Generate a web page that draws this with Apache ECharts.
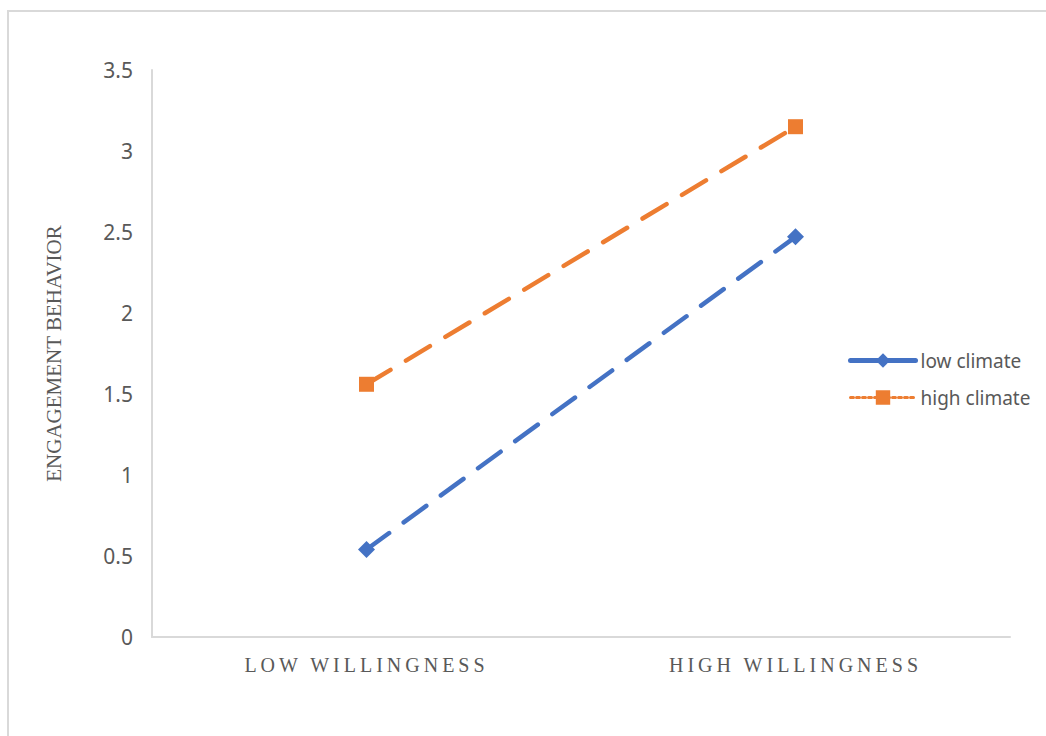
<!DOCTYPE html>
<html>
<head>
<meta charset="utf-8">
<script src="https://cdn.jsdelivr.net/npm/echarts@6/dist/echarts.min.js"></script>
<style>
  html, body { margin: 0; padding: 0; background: #fff; }
  #chart { width: 1046px; height: 736px; }
  /* category labels are letter-spaced in the original */
  #chart text[style*="Times New Roman"] { letter-spacing: 4px; }
</style>
</head>
<body>
<div id="chart"></div>
<script>
const categories = ['LOW WILLINGNESS', 'HIGH WILLINGNESS'];
const lowClimate = [0.54, 2.47];
const highClimate = [1.56, 3.15];
const seriesNames = ['low climate', 'high climate'];

const chart = echarts.init(document.getElementById('chart'), null, { renderer: 'svg' });

const option = {
  animation: false,
  backgroundColor: '#fff',
  graphic: [{
    type: 'rect',
    shape: { x: 8, y: 11, width: 1200, height: 900 },
    style: { fill: 'none', stroke: '#D9D9D9', lineWidth: 2 },
    silent: true
  }],
  grid: { left: 152, right: 36, top: 70, bottom: 99 },
  legend: {
    orient: 'vertical',
    left: 843,
    top: 346,
    itemWidth: 65,
    itemHeight: 18,
    itemGap: 18,
    textStyle: { color: '#595959', fontSize: 19, fontFamily: 'Noto Sans, sans-serif' },
    data: [
      { name: seriesNames[0], lineStyle: { type: 'solid', width: 5, cap: 'round' } },
      { name: seriesNames[1], lineStyle: { type: 'dotted', width: 3 } }
    ]
  },
  xAxis: {
    type: 'category',
    data: categories,
    boundaryGap: true,
    axisLine: { lineStyle: { color: '#D9D9D9', width: 2 } },
    axisTick: { show: false },
    axisLabel: {
      color: '#595959',
      fontSize: 20,
      margin: 18,
      fontFamily: "'Times New Roman', serif"
    }
  },
  yAxis: {
    type: 'value',
    min: 0,
    max: 3.5,
    interval: 0.5,
    name: 'ENGAGEMENT BEHAVIOR',
    nameLocation: 'middle',
    nameGap: 88,
    nameTextStyle: { color: '#595959', fontSize: 21, fontFamily: "'Liberation Serif', serif" },
    axisLine: { show: true, lineStyle: { color: '#D9D9D9', width: 2 } },
    axisTick: { show: false },
    splitLine: { show: false },
    axisLabel: { color: '#595959', fontSize: 21, margin: 19, fontFamily: 'Noto Sans, sans-serif' }
  },
  series: [
    {
      name: seriesNames[0],
      type: 'line',
      data: lowClimate,
      symbol: 'diamond',
      symbolSize: 17,
      color: '#4472C4',
      lineStyle: { width: 4.5, type: [28, 18], cap: 'round' },
      itemStyle: { color: '#4472C4' }
    },
    {
      name: seriesNames[1],
      type: 'line',
      data: highClimate,
      symbol: 'rect',
      symbolSize: 15,
      color: '#ED7D31',
      lineStyle: { width: 4.5, type: [28, 18], cap: 'round' },
      itemStyle: { color: '#ED7D31' }
    }
  ]
};

chart.setOption(option);
</script>
</body>
</html>
